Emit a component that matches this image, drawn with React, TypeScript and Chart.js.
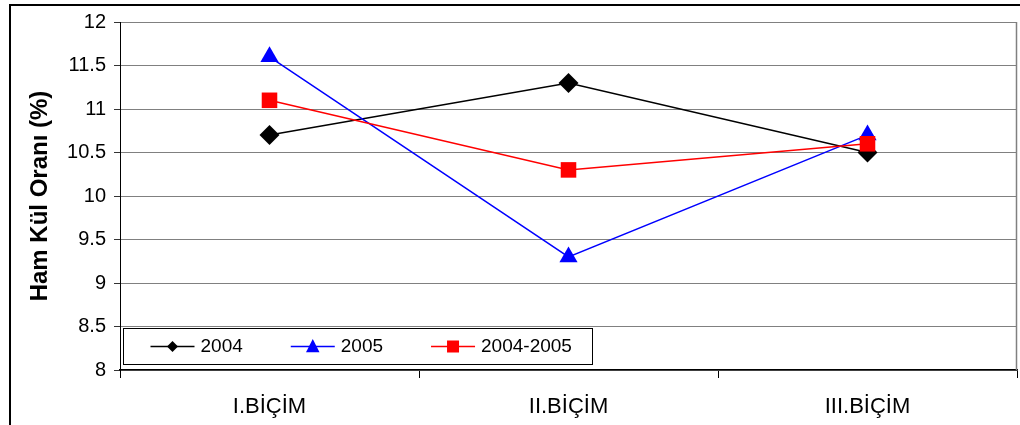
import React, { useEffect, useRef } from "react";
import { Chart, registerables } from "chart.js";

Chart.register(...registerables);

const categories = ["I.BİÇİM", "II.BİÇİM", "III.BİÇİM"];
const series2004 = [10.7, 11.3, 10.5];
const series2005 = [11.6, 9.3, 10.7];
const series2004_2005 = [11.1, 10.3, 10.6];
const seriesNames = ["2004", "2005", "2004-2005"];
const yTitle = "Ham Kül Oranı (%)";

const FONT = 'Arial, "Liberation Sans", sans-serif';

type LegendItemStyle = { color: string; shape: "diamond" | "triangle" | "square"; size: number };

function drawShape(ctx: CanvasRenderingContext2D, shape: string, x: number, y: number, s: number, color: string) {
  ctx.save();
  ctx.fillStyle = color;
  ctx.beginPath();
  if (shape === "diamond") {
    ctx.moveTo(x, y - s);
    ctx.lineTo(x + s, y);
    ctx.lineTo(x, y + s);
    ctx.lineTo(x - s, y);
  } else if (shape === "triangle") {
    ctx.moveTo(x, y - s);
    ctx.lineTo(x + s * 0.9, y + s * 0.75);
    ctx.lineTo(x - s * 0.9, y + s * 0.75);
  } else {
    ctx.rect(x - s, y - s, 2 * s, 2 * s);
  }
  ctx.closePath();
  ctx.fill();
  ctx.restore();
}

const legendStyles: LegendItemStyle[] = [
  { color: "#000000", shape: "diamond", size: 5.5 },
  { color: "#0000ff", shape: "triangle", size: 7.5 },
  { color: "#ff0000", shape: "square", size: 6 },
];

const framePlugin = {
  id: "frame",
  beforeDraw(chart: any) {
    const ctx = chart.ctx as CanvasRenderingContext2D;
    ctx.save();
    ctx.fillStyle = "#ffffff";
    ctx.fillRect(0, 0, chart.width, chart.height);
    ctx.strokeStyle = "#000000";
    ctx.lineWidth = 2;
    ctx.beginPath();
    ctx.moveTo(10, chart.height + 2);
    ctx.lineTo(10, 5);
    ctx.lineTo(chart.width + 2, 5);
    ctx.stroke();
    ctx.restore();
  },
  afterDraw(chart: any) {
    const ctx = chart.ctx as CanvasRenderingContext2D;
    const area = chart.chartArea;
    ctx.save();
    // right border of plot area
    ctx.strokeStyle = "#808080";
    ctx.lineWidth = 1.5;
    ctx.beginPath();
    ctx.moveTo(Math.round(area.right) - 0.5, area.top);
    ctx.lineTo(Math.round(area.right) - 0.5, area.bottom);
    ctx.stroke();

    // legend box
    const boxX = area.left + 3.5;
    const boxY = 328.5;
    const boxH = 36;
    ctx.font = `19px ${FONT}`;
    const lineLen = 44;
    const textGap = 6;
    const itemGap = 48;
    const padL = 27;
    const padR = 21;
    let total = padL;
    const widths = seriesNames.map((n) => ctx.measureText(n).width);
    widths.forEach((w, i) => {
      total += lineLen + textGap + w + (i < widths.length - 1 ? itemGap : 0);
    });
    total += padR;
    ctx.fillStyle = "#ffffff";
    ctx.fillRect(boxX, boxY, total, boxH);
    ctx.strokeStyle = "#000000";
    ctx.lineWidth = 1;
    ctx.strokeRect(boxX, boxY, Math.round(total), boxH);
    const cy = boxY + boxH / 2;
    let x = boxX + padL;
    seriesNames.forEach((name, i) => {
      const st = legendStyles[i];
      ctx.strokeStyle = st.color;
      ctx.lineWidth = 1.5;
      ctx.beginPath();
      ctx.moveTo(x, cy);
      ctx.lineTo(x + lineLen, cy);
      ctx.stroke();
      drawShape(ctx, st.shape, x + lineLen / 2, cy, st.size, st.color);
      ctx.fillStyle = "#000000";
      ctx.textBaseline = "middle";
      ctx.textAlign = "left";
      ctx.fillText(name, x + lineLen + textGap, cy);
      x += lineLen + textGap + widths[i] + itemGap;
    });
    ctx.restore();
  },
};

export default function App() {
  const ref = useRef<HTMLCanvasElement | null>(null);
  useEffect(() => {
    document.body.style.margin = "0";
    if (!ref.current) return;
    const chart = new Chart(ref.current, {
      type: "line",
      data: {
        labels: categories,
        datasets: [
          {
            label: seriesNames[0],
            data: series2004,
            borderColor: "#000000",
            backgroundColor: "#000000",
            borderWidth: 1.5,
            pointStyle: "rectRot",
            pointRadius: 10,
            pointBorderWidth: 0,
            order: 3,
          },
          {
            label: seriesNames[1],
            data: series2005,
            borderColor: "#0000ff",
            backgroundColor: "#0000ff",
            borderWidth: 1.5,
            pointStyle: "triangle",
            pointRadius: 10.5,
            pointBorderWidth: 0,
            order: 2,
          },
          {
            label: seriesNames[2],
            data: series2004_2005,
            borderColor: "#ff0000",
            backgroundColor: "#ff0000",
            borderWidth: 1.5,
            pointStyle: "rect",
            pointRadius: 11,
            pointBorderWidth: 0,
            order: 1,
          },
        ],
      },
      options: {
        responsive: false,
        animation: false,
        layout: { autoPadding: false, padding: { top: 22, right: 3, left: 0, bottom: 0 } },
        plugins: { legend: { display: false }, tooltip: { enabled: false } },
        scales: {
          x: {
            type: "category",
            offset: true,
            grid: { offset: true, drawOnChartArea: false, tickLength: 8, color: "#000000" },
            border: { color: "#000000", width: 1.5 },
            ticks: { font: { family: FONT, size: 22 }, color: "#000000", padding: 16, maxRotation: 0 },
            afterFit: (s: any) => {
              s.height = 55;
              s.paddingLeft = 0;
              s.paddingRight = 0;
            },
          },
          y: {
            min: 8,
            max: 12,
            ticks: {
              stepSize: 0.5,
              font: { family: FONT, size: 20 },
              color: "#000000",
              padding: 8,
              callback: (v: any) => String(Number(v)),
            },
            grid: { color: "#808080", tickLength: 6, tickColor: "#333333" },
            border: { color: "#000000", width: 1 },
            title: {
              display: true,
              text: yTitle,
              font: { family: FONT, size: 24, weight: "bold" },
              color: "#000000",
              padding: { top: 26, bottom: 0 },
            },
            afterFit: (s: any) => {
              s.width = 120;
              s.paddingTop = 0;
              s.paddingBottom = 0;
            },
          },
        },
      },
      plugins: [framePlugin],
    });
    return () => chart.destroy();
  }, []);
  return (
    <div style={{ width: 1020, height: 425 }}>
      <canvas ref={ref} width={1020} height={425} />
    </div>
  );
}
